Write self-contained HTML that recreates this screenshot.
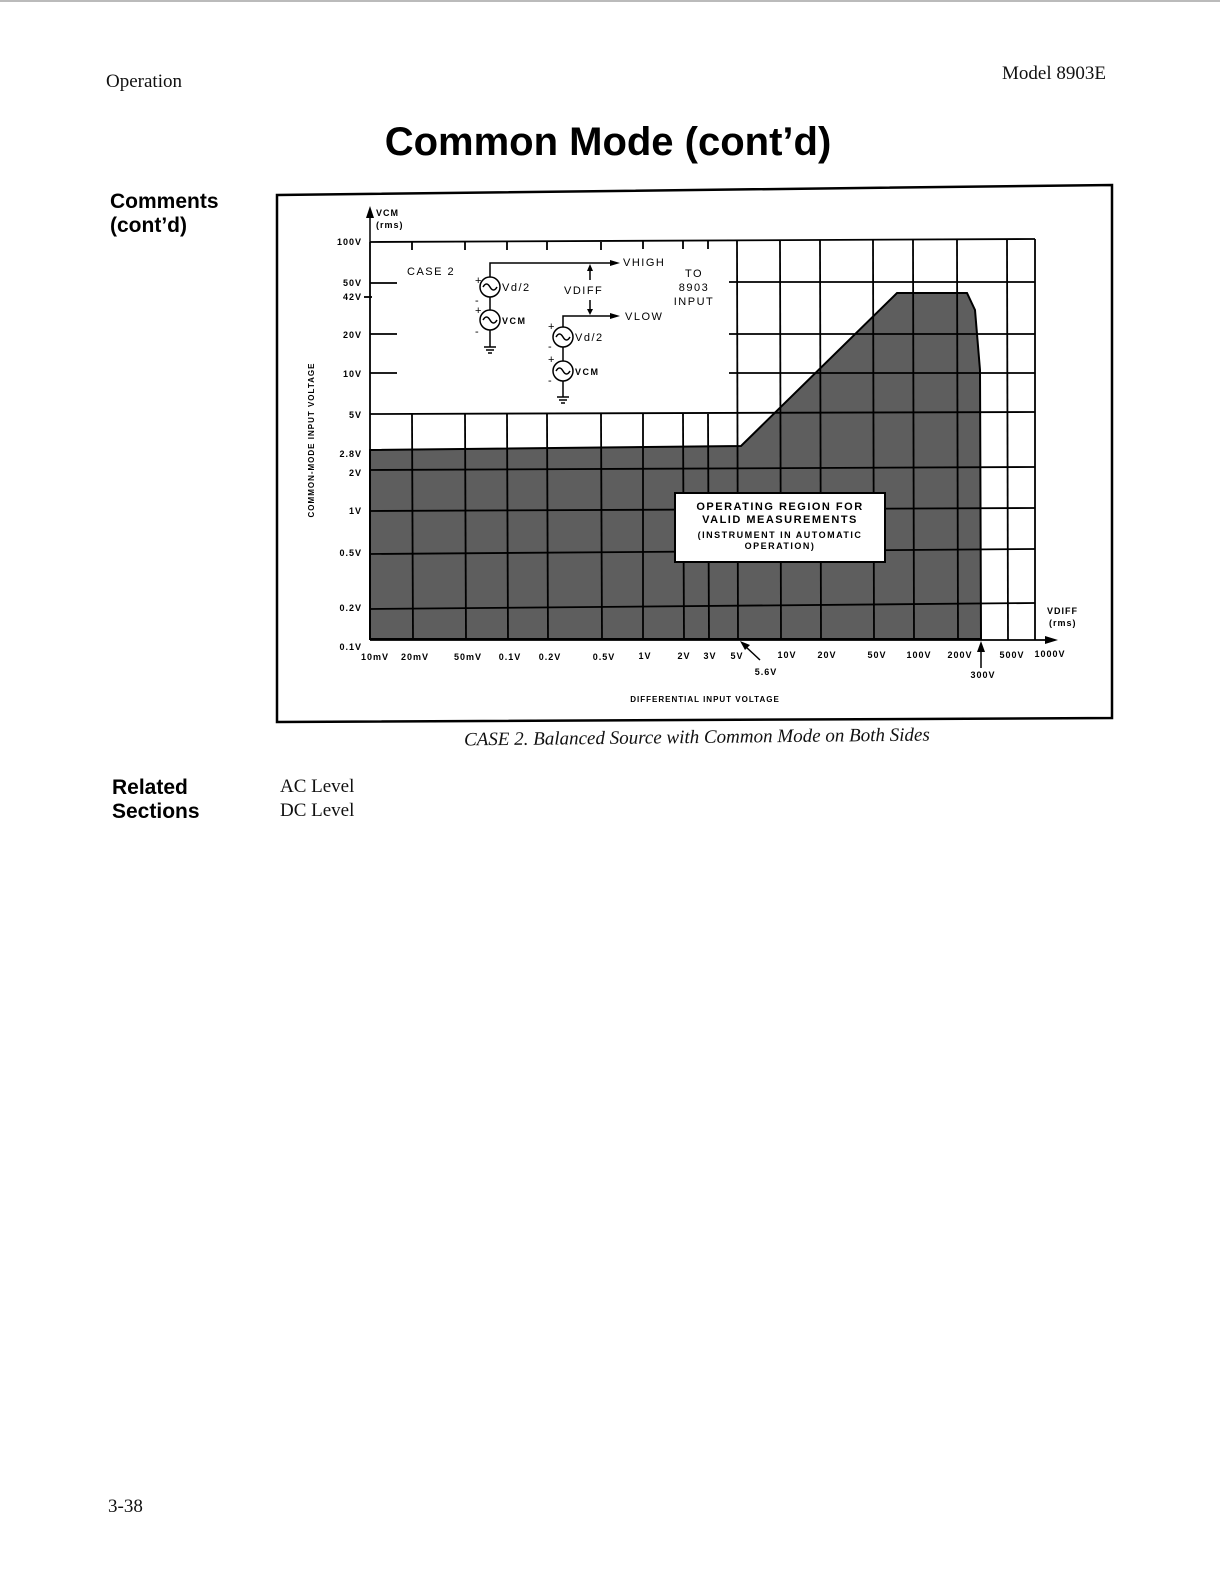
<!DOCTYPE html>
<html><head><meta charset="utf-8"><style>
body{margin:0;background:#fff;}
svg{display:block}
</style></head><body>
<svg width="1220" height="1589" viewBox="0 0 1220 1589" xmlns="http://www.w3.org/2000/svg">
<line x1="0" y1="1" x2="1220" y2="1" stroke="#bbb" stroke-width="2"/>
<g font-family="Liberation Serif, serif" font-size="19" fill="#111">
<text x="106" y="87">Operation</text>
<text x="1106" y="79" text-anchor="end">Model 8903E</text>
<text x="280" y="792">AC Level</text>
<text x="280" y="816">DC Level</text>
<text x="108" y="1512">3-38</text>
<text x="697" y="743" text-anchor="middle" font-style="italic" font-size="19" transform="rotate(-0.6 697 743)">CASE 2. Balanced Source with Common Mode on Both Sides</text>
</g>
<g font-family="Liberation Sans, sans-serif" font-weight="bold" fill="#000">
<text x="608" y="155" text-anchor="middle" font-size="40">Common Mode (cont’d)</text>
<text x="110" y="208" font-size="21">Comments</text>
<text x="110" y="232" font-size="21">(cont’d)</text>
<text x="112" y="794" font-size="21">Related</text>
<text x="112" y="818" font-size="21">Sections</text>
</g>
<polygon points="277,195 1112,185 1112,718 277,722" fill="none" stroke="#000" stroke-width="2.5"/>
<polygon points="370,450 741,446 897,293 967,293 975,310 980,370 981,639 370,639" fill="#5e5e5e" stroke="#000" stroke-width="2"/>
<g stroke="#000" stroke-width="1.8" fill="none">
<line x1="370" y1="242" x2="370" y2="640"/>
<line x1="370" y1="640" x2="1055" y2="640"/>
<line x1="370" y1="242" x2="1035" y2="239"/>
<line x1="1035" y1="239" x2="1035" y2="640"/>
<line x1="370" y1="283" x2="397" y2="283"/>
<line x1="364" y1="297" x2="372" y2="297"/>
<line x1="370" y1="334" x2="397" y2="334"/>
<line x1="370" y1="373" x2="397" y2="373"/>
<line x1="729" y1="282" x2="1035" y2="282"/>
<line x1="729" y1="334" x2="1035" y2="334"/>
<line x1="729" y1="373" x2="1035" y2="373"/>
<line x1="370" y1="414" x2="1035" y2="412"/>
<line x1="370" y1="470" x2="1035" y2="467"/>
<line x1="370" y1="511" x2="1035" y2="508"/>
<line x1="370" y1="554" x2="1035" y2="549"/>
<line x1="370" y1="609" x2="1035" y2="603"/>
<line x1="412" y1="414" x2="413" y2="640"/>
<line x1="465" y1="414" x2="466" y2="640"/>
<line x1="507" y1="414" x2="508" y2="640"/>
<line x1="547" y1="414" x2="548" y2="640"/>
<line x1="601" y1="414" x2="602" y2="640"/>
<line x1="643" y1="414" x2="643" y2="640"/>
<line x1="683" y1="414" x2="684" y2="640"/>
<line x1="708" y1="414" x2="709" y2="640"/>
<line x1="412" y1="242" x2="412" y2="250"/>
<line x1="465" y1="242" x2="465" y2="250"/>
<line x1="507" y1="242" x2="507" y2="250"/>
<line x1="547" y1="242" x2="547" y2="250"/>
<line x1="601" y1="242" x2="601" y2="250"/>
<line x1="643" y1="241" x2="643" y2="249"/>
<line x1="683" y1="241" x2="683" y2="249"/>
<line x1="708" y1="241" x2="708" y2="249"/>
<line x1="737" y1="241" x2="738" y2="640"/>
<line x1="780" y1="241" x2="781" y2="640"/>
<line x1="820" y1="240" x2="821" y2="640"/>
<line x1="873" y1="240" x2="874" y2="640"/>
<line x1="913" y1="240" x2="914" y2="640"/>
<line x1="957" y1="240" x2="958" y2="640"/>
<line x1="1007" y1="239" x2="1008" y2="640"/>
</g>
<line x1="370" y1="242" x2="370" y2="212" stroke="#000" stroke-width="1.5"/>
<polygon points="366,218 370,206 374,218" fill="#000"/>
<polygon points="1045,636 1058,640 1045,644" fill="#000"/>
<rect x="675" y="493" width="210" height="69" fill="#fff" stroke="#000" stroke-width="2"/>
<g font-family="Liberation Sans, sans-serif" font-size="11" font-weight="bold" fill="#000" letter-spacing="1.5" text-anchor="middle">
<text x="780" y="510">OPERATING REGION FOR</text>
<text x="780" y="523">VALID MEASUREMENTS</text>
<text x="780" y="538" font-size="9">(INSTRUMENT IN AUTOMATIC</text>
<text x="780" y="549" font-size="9">OPERATION)</text>
</g>
<g font-family="Liberation Sans, sans-serif" font-size="9" font-weight="bold" fill="#000" letter-spacing="1">
<g text-anchor="end">
<text x="362" y="245">100V</text>
<text x="362" y="286">50V</text>
<text x="362" y="300">42V</text>
<text x="362" y="338">20V</text>
<text x="362" y="377">10V</text>
<text x="362" y="418">5V</text>
<text x="362" y="457">2.8V</text>
<text x="362" y="476">2V</text>
<text x="362" y="514">1V</text>
<text x="362" y="556">0.5V</text>
<text x="362" y="611">0.2V</text>
<text x="362" y="650">0.1V</text>
</g>
<text x="376" y="216">VCM</text>
<text x="376" y="228">(rms)</text>
<text x="1047" y="614">VDIFF</text>
<text x="1049" y="626">(rms)</text>
<g text-anchor="middle">
<text x="375" y="660">10mV</text><text x="415" y="660">20mV</text><text x="468" y="660">50mV</text>
<text x="510" y="660">0.1V</text><text x="550" y="660">0.2V</text><text x="604" y="660">0.5V</text>
<text x="645" y="659">1V</text><text x="684" y="659">2V</text><text x="710" y="659">3V</text><text x="737" y="659">5V</text>
<text x="787" y="658">10V</text><text x="827" y="658">20V</text><text x="877" y="658">50V</text><text x="919" y="658">100V</text>
<text x="960" y="658">200V</text><text x="1012" y="658">500V</text><text x="1050" y="657">1000V</text>
<text x="766" y="675">5.6V</text><text x="983" y="678">300V</text>
<text x="705" y="702" font-size="8">DIFFERENTIAL INPUT VOLTAGE</text>
</g>
<text x="314" y="440" text-anchor="middle" font-size="8" transform="rotate(-90 314 440)">COMMON-MODE INPUT VOLTAGE</text>
</g>
<line x1="760" y1="660" x2="745" y2="646" stroke="#000" stroke-width="1.5"/>
<polygon points="740,641 750,645 745,650" fill="#000"/>
<line x1="981" y1="668" x2="981" y2="650" stroke="#000" stroke-width="1.5"/>
<polygon points="977,652 981,641 985,652" fill="#000"/>
<g stroke="#000" stroke-width="1.5" fill="none">
<polyline points="490,277 490,263 615,263"/>
<polyline points="563,327 563,316 615,316"/>
<line x1="490" y1="297" x2="490" y2="310"/>
<line x1="490" y1="330" x2="490" y2="347"/>
<line x1="563" y1="347" x2="563" y2="361"/>
<line x1="563" y1="381" x2="563" y2="397"/>
<line x1="590" y1="270" x2="590" y2="280"/>
<line x1="590" y1="300" x2="590" y2="310"/>
<circle cx="490" cy="287" r="10"/><circle cx="490" cy="320" r="10"/>
<circle cx="563" cy="337" r="10"/><circle cx="563" cy="371" r="10"/>
<path d="M483,287 q3.5,-6 7,0 t7,0"/><path d="M483,320 q3.5,-6 7,0 t7,0"/>
<path d="M556,337 q3.5,-6 7,0 t7,0"/><path d="M556,371 q3.5,-6 7,0 t7,0"/>
<line x1="484" y1="347" x2="496" y2="347"/><line x1="486" y1="350" x2="494" y2="350"/><line x1="488" y1="353" x2="492" y2="353"/>
<line x1="557" y1="397" x2="569" y2="397"/><line x1="559" y1="400" x2="567" y2="400"/><line x1="561" y1="403" x2="565" y2="403"/>
</g>
<polygon points="610,260 620,263 610,266" fill="#000"/>
<polygon points="610,313 620,316 610,319" fill="#000"/>
<polygon points="587,271 590,264 593,271" fill="#000"/>
<polygon points="587,309 590,315 593,309" fill="#000"/>
<g font-family="Liberation Sans, sans-serif" font-size="11" fill="#000" letter-spacing="1.5">
<text x="407" y="275">CASE 2</text>
<text x="475" y="284">+</text><text x="475" y="304">-</text><text x="475" y="314">+</text><text x="475" y="335">-</text>
<text x="548" y="330">+</text><text x="548" y="350">-</text><text x="548" y="363">+</text><text x="548" y="384">-</text>
<text x="502" y="291">Vd/2</text><text x="502" y="324" font-size="9" font-weight="bold">VCM</text>
<text x="575" y="341">Vd/2</text><text x="575" y="375" font-size="9" font-weight="bold">VCM</text>
<text x="623" y="266">VHIGH</text><text x="625" y="320">VLOW</text>
<text x="564" y="294">VDIFF</text>
<g text-anchor="middle"><text x="694" y="277">TO</text><text x="694" y="291">8903</text><text x="694" y="305">INPUT</text></g>
</g>
</svg>
</body></html>
